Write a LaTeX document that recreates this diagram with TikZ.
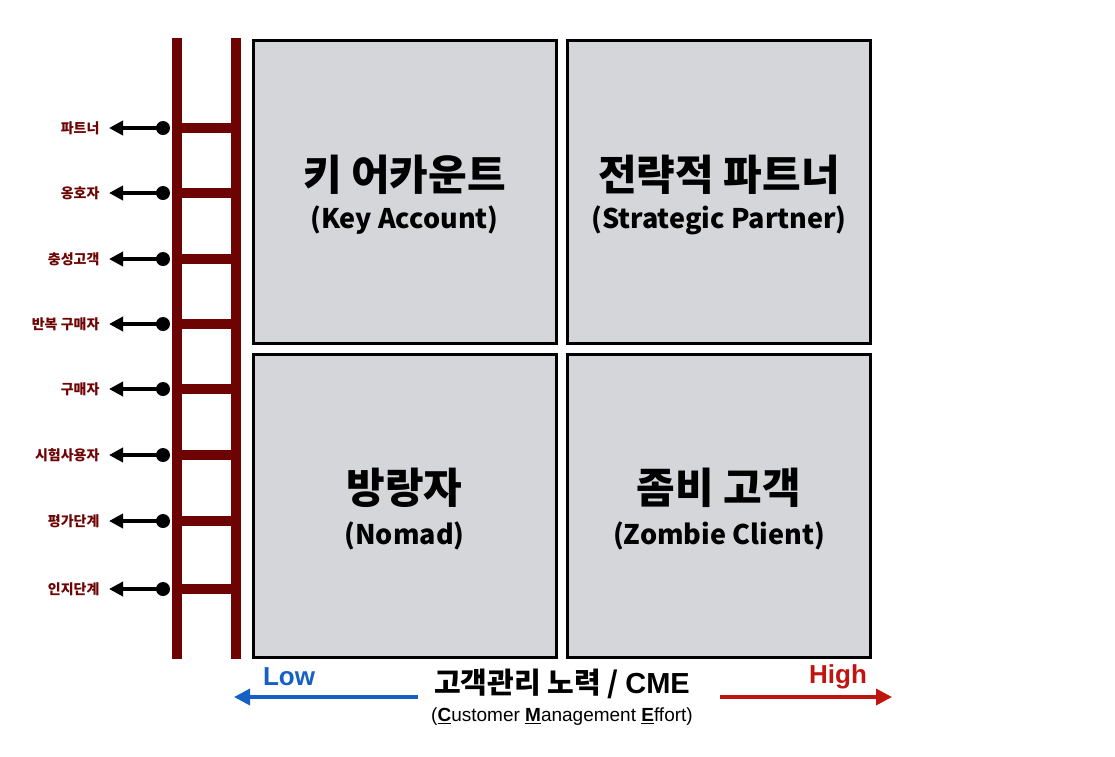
\documentclass[tikz,border=0pt]{standalone}
\usepackage{fontspec}
\setmainfont{Liberation Sans}
\newfontfamily\kr{Noto Sans CJK KR}
\newfontfamily\krm{Noto Sans CJK KR Medium}
\usetikzlibrary{arrows.meta}
\definecolor{ladder}{HTML}{6E0303}
\definecolor{boxgray}{HTML}{D5D6DA}
\definecolor{lowblue}{HTML}{1560C4}
\definecolor{highred}{HTML}{BE1510}
\tikzset{
  rail/.style={draw=ladder,line width=10pt},
  quad/.style={draw=black,line width=3pt,fill=boxgray,minimum width=303pt,minimum height=303pt,inner sep=0pt},
  stage/.style={anchor=east,text=ladder,font=\kr\bfseries\fontsize{14}{16}\selectfont},
  ptr/.style={draw=black,line width=3.5pt,-{Triangle[length=14pt,width=14pt]}},
  ttl/.style={align=center,font=\kr\bfseries\fontsize{42}{46}\selectfont},
  sub/.style={font=\kr\bfseries\fontsize{27}{30}\selectfont}
}
\begin{document}
\begin{tikzpicture}[x=1pt,y=-1pt]
\useasboundingbox (0,0) rectangle (1115,756);
\draw[rail] (177,38) -- (177,659);
\draw[rail] (236,38) -- (236,659);
\foreach \y/\t [count=\i] in {128/파트너,193/옹호자,259/충성고객,324/반복 구매자,389/구매자,455/시험사용자,521/평가단계,589/인지단계}{
  \draw[rail] (177,\y) -- (236,\y);
  \node[circle,fill=black,minimum size=14pt,inner sep=0pt] (d\i) at (163,\y) {};
  \coordinate (e\i) at (109,\y);
  \draw[ptr] (d\i.center) -- (e\i);
  \node[stage] (s\i) at (103,\y) {\t};
}
\node[quad] (tl) at (404.5,191.5) {};
\node[quad] (tr) at (719,191.5) {};
\node[quad] (bl) at (404.5,505.5) {};
\node[quad] (br) at (719,505.5) {};
\node[ttl] (t1) at (404.5,175) {키 어카운트};
\node[sub] (u1) at (404.5,220) {(Key Account)};
\node[ttl] (t2) at (719,175) {전략적 파트너};
\node[sub] (u2) at (719,220) {(Strategic Partner)};
\node[ttl] (t3) at (404.5,488) {방랑자};
\node[sub] (u3) at (404.5,536) {(Nomad)};
\node[ttl] (t4) at (719,488) {좀비 고객};
\node[sub] (u4) at (719,536) {(Zombie Client)};
\coordinate (la) at (418,697); \coordinate (lb) at (234,697);
\coordinate (ha) at (720,697); \coordinate (hb) at (892,697);
\draw[-{Triangle[length=16pt,width=16pt]},line width=3.5pt,lowblue] (la) -- (lb);
\draw[-{Triangle[length=16pt,width=16pt]},line width=3.5pt,highred] (ha) -- (hb);
\node[text=lowblue,font=\bfseries\fontsize{26}{28}\selectfont] (low) at (289,677) {Low};
\node[text=highred,font=\bfseries\fontsize{26}{28}\selectfont] (high) at (838,677) {High};
\node[font=\kr\bfseries\fontsize{29}{32}\selectfont] (ax) at (562,684) {고객관리 노력 / \fontspec{Liberation Sans}\bfseries CME};
\node[font=\fontsize{19}{21}\selectfont] (axs) at (562,717) {(\textbf{\underline{C}}ustomer \textbf{\underline{M}}anagement \textbf{\underline{E}}ffort)};
\end{tikzpicture}
\end{document}
